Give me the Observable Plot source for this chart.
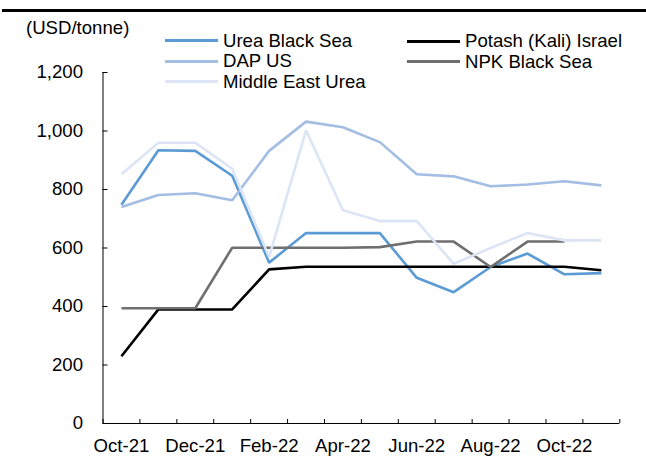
<!DOCTYPE html>
<html>
<head>
<meta charset="utf-8">
<script src="https://cdn.jsdelivr.net/npm/d3@7"></script>
<script src="https://cdn.jsdelivr.net/npm/@observablehq/plot@0.6"></script>
<style>
  html, body { margin: 0; padding: 0; background: #fff; }
  #wrap { position: relative; width: 646px; height: 457px; font-family: "Liberation Sans", Arial, sans-serif; font-size: 18.6px; color: #000; overflow: hidden; }
  #topline { position: absolute; left: 2px; right: 0; top: 9px; height: 2.5px; background: #000; }
  #unit { position: absolute; left: 26px; top: 17px; line-height: 22px; white-space: nowrap; }
  .leg { position: absolute; display: flex; align-items: center; height: 20px; white-space: nowrap; }
  .sw { width: 53px; height: 3px; margin-right: 5px; }
  #chart { position: absolute; left: 0; top: 0; }
</style>
</head>
<body>
<div id="wrap">
  <div id="chart"></div>
  <div id="topline"></div>
  <div id="unit">(USD/tonne)</div>
  <div id="legend"></div>
</div>
<script>
const months = ["Oct-21","Nov-21","Dec-21","Jan-22","Feb-22","Mar-22","Apr-22","May-22","Jun-22","Jul-22","Aug-22","Sep-22","Oct-22","Nov-22"];
const seriesNames = ["Urea Black Sea","Potash (Kali) Israel","DAP US","NPK Black Sea","Middle East Urea"];
const seriesColors = ["#5b9bd5","#000000","#a3bde3","#6f6f6f","#dce5f5"];
const ureaBlackSea = [748, 934, 932, 847, 550, 651, 651, 651, 498, 449, 535, 581, 510, 514];
const potash       = [230, 390, 390, 390, 527, 536, 536, 536, 536, 536, 536, 536, 536, 524];
const dapUS        = [740, 781, 787, 763, 932, 1032, 1013, 962, 852, 845, 811, 817, 828, 814];
const npkBlackSea  = [394, 394, 394, 601, 601, 601, 601, 603, 622, 622, 535, 622, 622, null];
const meUrea       = [852, 960, 960, 871, 569, 1002, 729, 692, 692, 546, 600, 651, 626, 626];
const yTicks = [0, 200, 400, 600, 800, 1000, 1200];
const xLabelIdx = [0, 2, 4, 6, 8, 10, 12];

const valuesBySeries = [ureaBlackSea, potash, dapUS, npkBlackSea, meUrea];
const data = seriesNames.flatMap((s, k) => valuesBySeries[k].map((v, i) => ({series: s, i, v})));
const boundaries = d3.range(months.length + 1).map(b => b - 0.5);

const W = 646, H = 457, mt = 72, mb = 34, ml = 102.5, mr = 26.7;
const plotW = W - ml - mr, plotH = H - mt - mb;

const chart = Plot.plot({
  width: W, height: H,
  marginTop: mt, marginBottom: mb, marginLeft: ml, marginRight: mr,
  style: {fontFamily: "Liberation Sans, Arial, sans-serif", fontSize: "18.6px", color: "#000", background: "transparent"},
  x: {type: "linear", domain: [-0.5, months.length - 0.5], axis: null},
  y: {domain: [0, 1200], axis: null},
  color: {domain: seriesNames, range: seriesColors},
  marks: [
    Plot.axisY(yTicks, {tickSize: 0, tickPadding: 20, tickFormat: d3.format(","), label: null}),
    Plot.axisX(xLabelIdx, {tickSize: 0, tickPadding: 15, tickFormat: i => months[i], label: null}),
    Plot.tickY(yTicks, {y: d => d, stroke: "#000", strokeWidth: 1, insetRight: plotW - 5}),
    Plot.tickX(boundaries, {x: d => d, stroke: "#000", strokeWidth: 1, insetTop: plotH - 4}),
    Plot.ruleX([-0.5], {stroke: "#000", strokeWidth: 1}),
    Plot.ruleY([0], {stroke: "#000", strokeWidth: 1}),
    Plot.line(data, {x: "i", y: "v", z: "series", stroke: "series", strokeWidth: 2.6, strokeLinejoin: "miter", strokeLinecap: "butt"})
  ]
});
document.getElementById("chart").appendChild(chart);

// legend
const legendPos = [
  {left: 165, top: 30.5}, {left: 407, top: 31},
  {left: 165, top: 51}, {left: 407, top: 51.5},
  {left: 165, top: 71.5}
];
const legendOrder = ["Urea Black Sea","Potash (Kali) Israel","DAP US","NPK Black Sea","Middle East Urea"];
const legend = document.getElementById("legend");
legendOrder.forEach((name, k) => {
  const el = document.createElement("div");
  el.className = "leg";
  el.style.left = legendPos[k].left + "px";
  el.style.top = legendPos[k].top + "px";
  const sw = document.createElement("div");
  sw.className = "sw";
  sw.style.background = seriesColors[seriesNames.indexOf(name)];
  const t = document.createElement("span");
  t.textContent = name;
  el.appendChild(sw); el.appendChild(t);
  legend.appendChild(el);
});
</script>
</body>
</html>
